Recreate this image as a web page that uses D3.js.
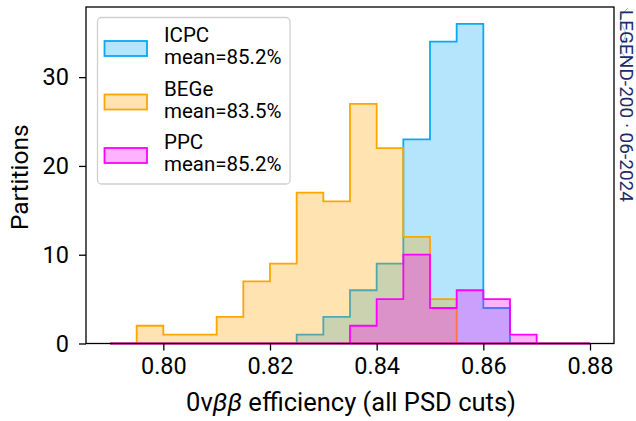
<!DOCTYPE html>
<html>
<head>
<meta charset="utf-8">
<script src="https://cdn.jsdelivr.net/npm/d3@7"></script>
<style>
  body { margin: 0; background: #fff; }
  text { font-family: Roboto, "DejaVu Sans", sans-serif; fill: #000; }
</style>
</head>
<body>
<script>
// bin edges: 0.790 .. 0.880, width 0.005 (18 bins)
const binStart = 0.79;
const binWidth = 0.005;
const icpcCounts = [0, 0, 0, 0, 0, 0, 0, 1, 3, 6, 9, 23, 34, 36, 4, 0, 0, 0];
const begeCounts = [0, 2, 1, 1, 3, 7, 9, 17, 16, 27, 22, 12, 5, 0, 0, 0, 0, 0];
const ppcCounts  = [0, 0, 0, 0, 0, 0, 0, 0, 0, 2, 5, 10, 4, 6, 5, 1, 0, 0];
const seriesNames = ['ICPC', 'BEGe', 'PPC'];
const seriesMeans = ['mean=85.2%', 'mean=83.5%', 'mean=85.2%'];
const seriesColors = ['#0aa8f5', '#ffa500', '#ff00ff'];
const xTicks = [0.80, 0.82, 0.84, 0.86, 0.88];
const yTicks = [0, 10, 20, 30];

const width = 636, height = 421;
const margin = {left: 86, right: 22, top: 7, bottom: 77.5};

const svg = d3.select('body')
  .append('svg')
  .attr('width', width)
  .attr('height', height);

const x = d3.scaleLinear()
  .domain([0.7855, 0.8845])
  .range([margin.left, width - margin.right]);

const y = d3.scaleLinear()
  .domain([0, 37.9])
  .range([height - margin.bottom, margin.top]);

function histPath(counts) {
  let p = d3.path();
  p.moveTo(x(binStart), y(0));
  counts.forEach(function(c, i) {
    p.lineTo(x(binStart + i * binWidth), y(c));
    p.lineTo(x(binStart + (i + 1) * binWidth), y(c));
  });
  p.lineTo(x(binStart + counts.length * binWidth), y(0));
  p.closePath();
  return p.toString();
}

const allCounts = [icpcCounts, begeCounts, ppcCounts];

let hist = svg.append('g').attr('class', 'hists');
allCounts.forEach(function(counts, i) {
  let g = hist.append('g');
  g.append('path')
    .attr('d', histPath(counts))
    .attr('fill', seriesColors[i])
    .attr('fill-opacity', 0.3)
    .attr('stroke', 'none');
  g.append('path')
    .attr('d', histPath(counts))
    .attr('fill', 'none')
    .attr('stroke', seriesColors[i])
    .attr('stroke-width', 1.8)
    .attr('stroke-linejoin', 'miter');
});

// axes
let xAxis = svg.append('g')
  .attr('transform', `translate(0,${y(0)})`)
  .call(d3.axisBottom(x).tickValues(xTicks).tickFormat(d3.format('.2f')).tickSize(7).tickPadding(8));

let yAxis = svg.append('g')
  .attr('transform', `translate(${x.range()[0]},0)`)
  .call(d3.axisLeft(y).tickValues(yTicks).tickSize(7).tickPadding(10));

[xAxis, yAxis].forEach(function(a) {
  a.select('.domain').remove();
  a.selectAll('line').attr('stroke', '#000').attr('stroke-width', 1.3);
  a.selectAll('text').style('font-size', '23.5px').attr('fill', '#000');
});
xAxis.selectAll('text').attr('dy', '0.71em').attr('y', 14);

// frame
svg.append('rect')
  .attr('x', x.range()[0])
  .attr('y', y.range()[1])
  .attr('width', x.range()[1] - x.range()[0])
  .attr('height', y.range()[0] - y.range()[1])
  .attr('fill', 'none')
  .attr('stroke', '#000')
  .attr('stroke-width', 1.3);

// axis labels
let xLabel = svg.append('text')
  .attr('x', (x.range()[0] + x.range()[1]) / 2 + 1)
  .attr('y', 411)
  .attr('text-anchor', 'middle')
  .style('font-size', '25.5px');
xLabel.append('tspan').text('0');
xLabel.append('tspan').text('ν');
xLabel.append('tspan').style('font-style', 'italic').text('ββ');
xLabel.append('tspan').text(' efficiency (all PSD cuts)');

svg.append('text')
  .attr('transform', `translate(28,${(y.range()[0] + y.range()[1]) / 2 + 2}) rotate(-90)`)
  .attr('text-anchor', 'middle')
  .style('font-size', '24.5px')
  .text('Partitions');

// legend
let legend = svg.append('g').attr('class', 'legend');
legend.append('rect')
  .attr('x', 97.5)
  .attr('y', 17.5)
  .attr('width', 192.5)
  .attr('height', 166.5)
  .attr('rx', 4)
  .attr('fill', '#fff')
  .attr('fill-opacity', 0.8)
  .attr('stroke', '#d0d0d0')
  .attr('stroke-width', 1.3);

seriesNames.forEach(function(name, i) {
  let cy = 48.5 + i * 53.5;
  legend.append('rect')
    .attr('x', 104.5)
    .attr('y', cy - 7.5)
    .attr('width', 42.5)
    .attr('height', 15)
    .attr('fill', seriesColors[i])
    .attr('fill-opacity', 0.3)
    .attr('stroke', seriesColors[i])
    .attr('stroke-width', 1.8);
  legend.append('text')
    .attr('x', 164)
    .attr('y', 42 + i * 53.5)
    .style('font-size', '20.5px')
    .text(name);
  legend.append('text')
    .attr('x', 164)
    .attr('y', 64 + i * 53.5)
    .style('font-size', '20.5px')
    .text(seriesMeans[i]);
});

// collaboration watermark
let wave = d3.line().curve(d3.curveBasis);
svg.append('path')
  .attr('d', wave([[628, 8], [616, 20], [630, 34], [618, 46], [624, 56], [630, 64]]))
  .attr('fill', 'none')
  .attr('stroke', '#7cc4e8')
  .attr('stroke-width', 1);

svg.append('text')
  .attr('transform', 'translate(619.5,10) rotate(90)')
  .attr('textLength', 192)
  .attr('lengthAdjust', 'spacingAndGlyphs')
  .style('font-size', '19px')
  .style('fill', '#1d2c66')
  .text('LEGEND-200 · 06-2024');
</script>
</body>
</html>
